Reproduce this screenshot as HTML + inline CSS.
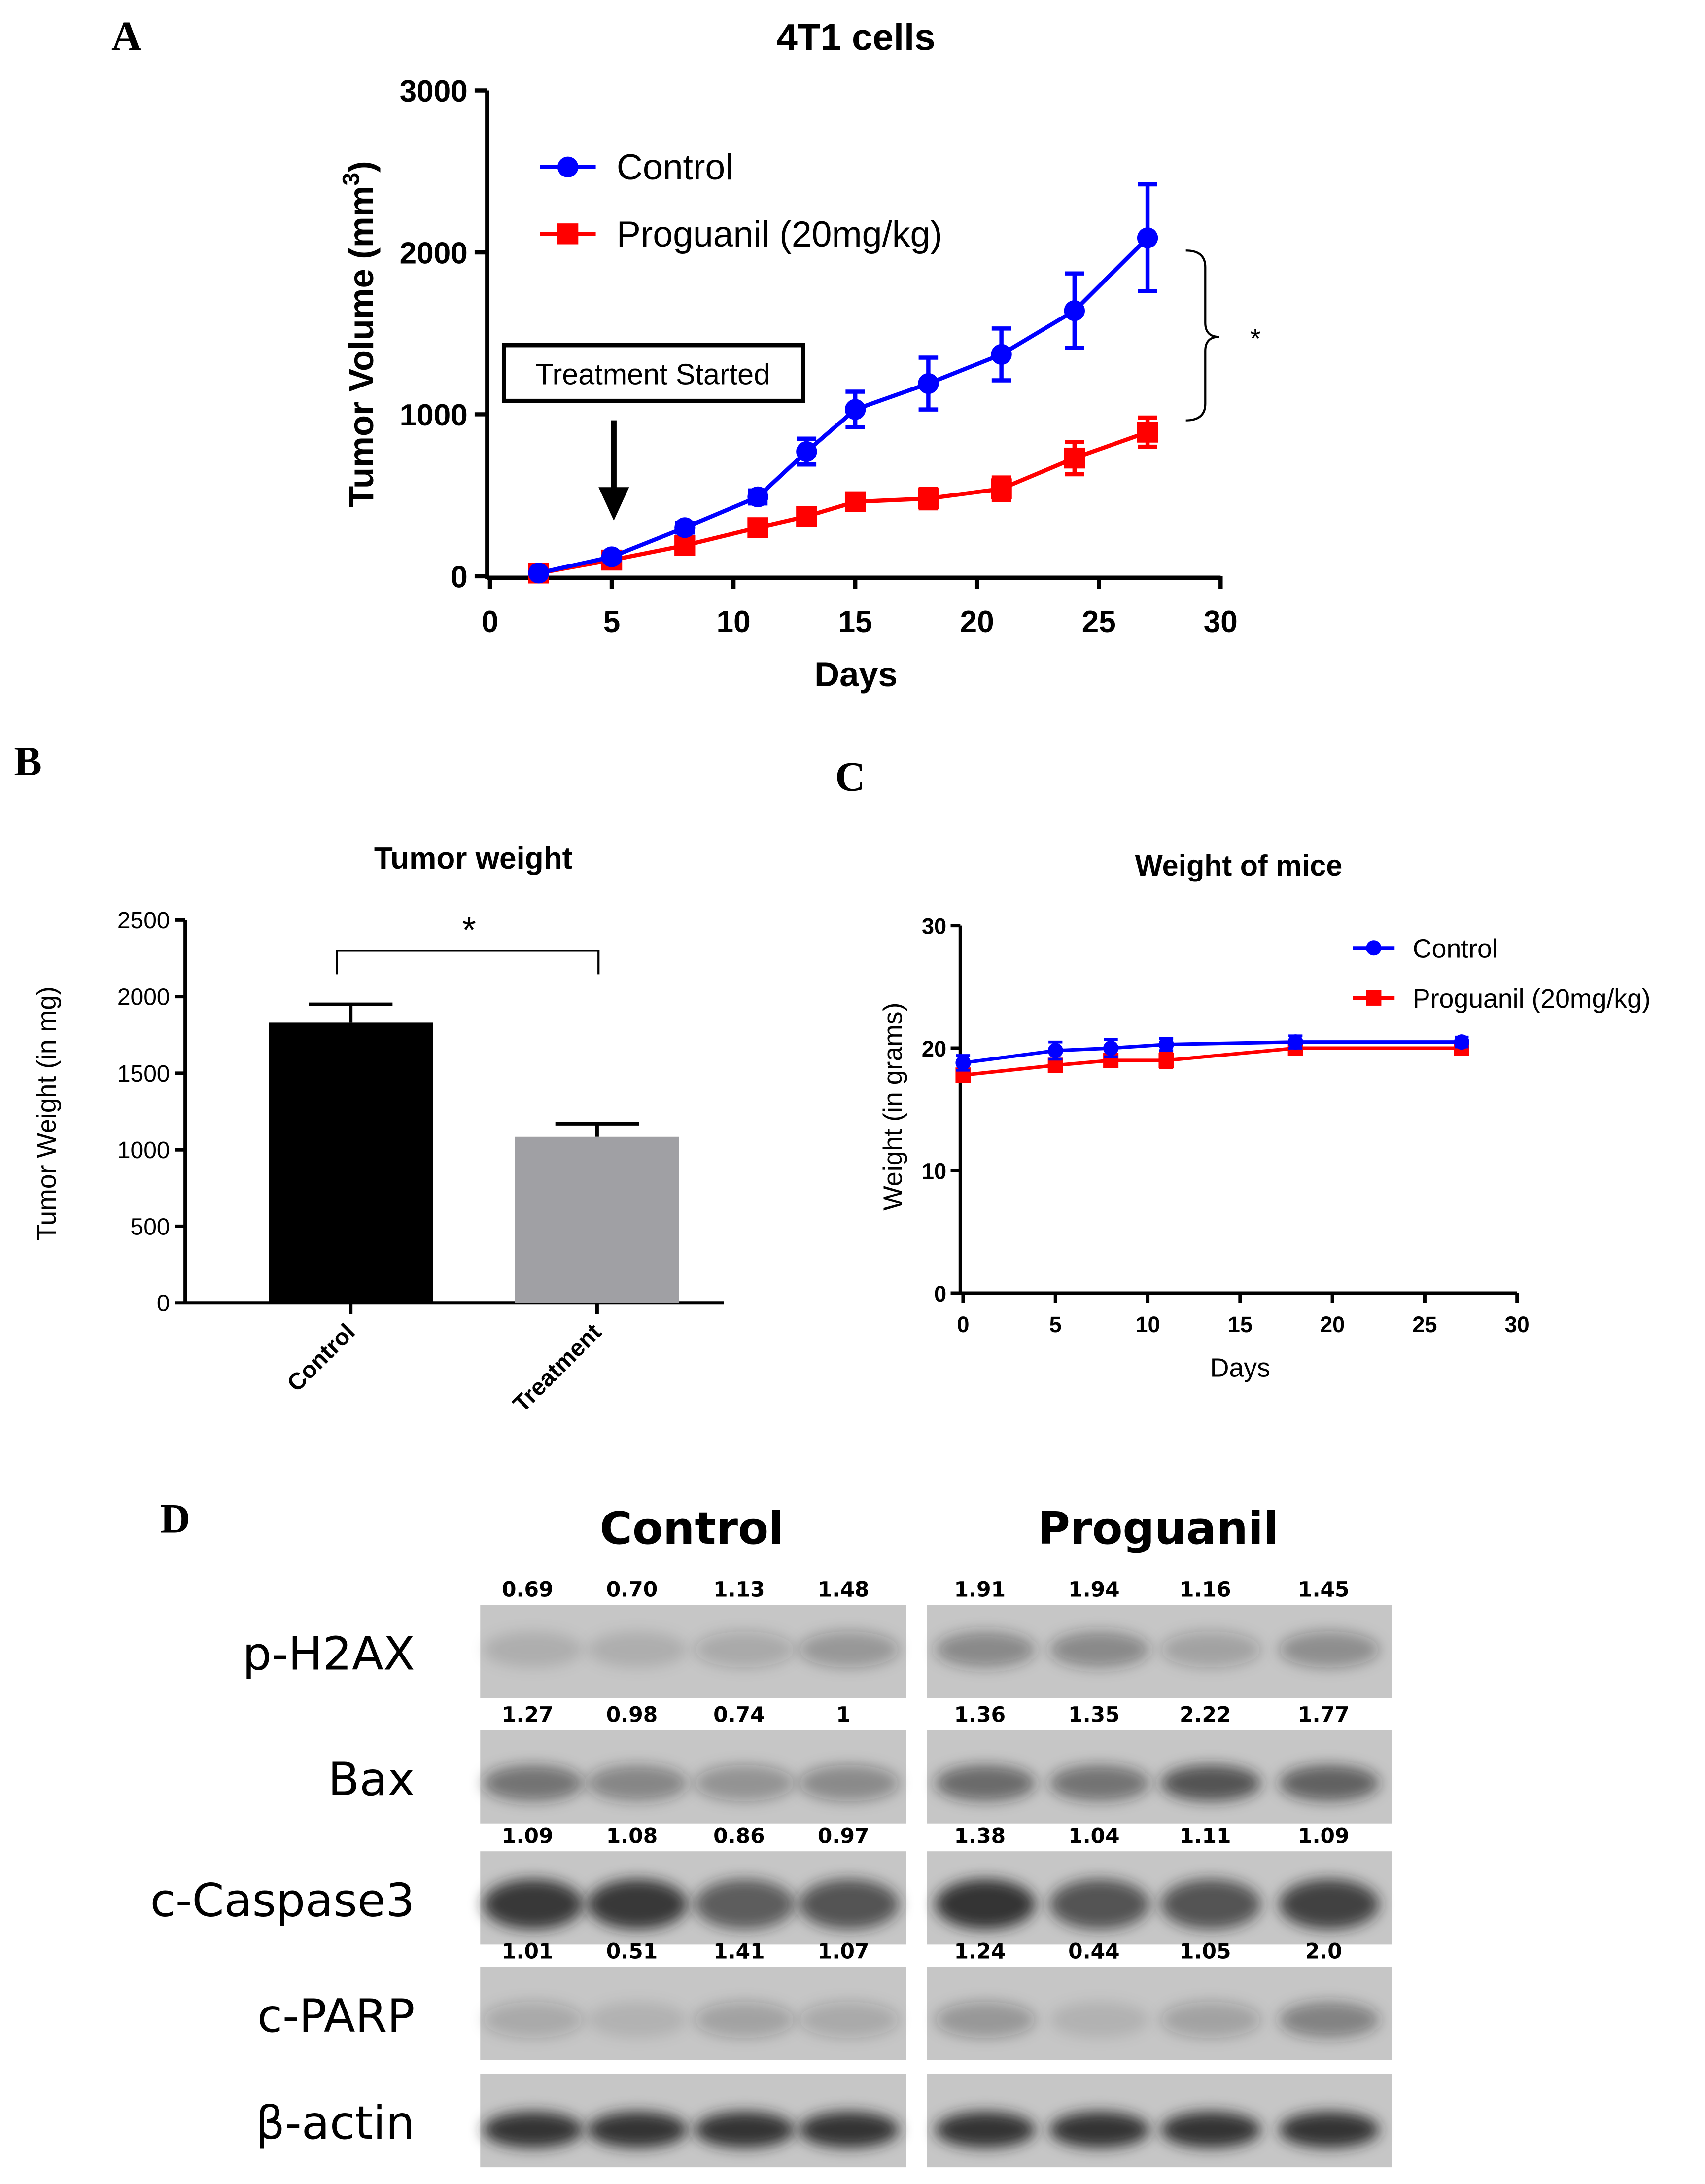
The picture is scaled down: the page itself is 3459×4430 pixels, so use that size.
<!DOCTYPE html>
<html><head><meta charset="utf-8"><style>html,body{margin:0;padding:0;background:#fff}svg{display:block}</style></head>
<body>
<svg width="3459" height="4430" viewBox="0 0 1225 1569" xmlns="http://www.w3.org/2000/svg" font-family="Liberation Sans, sans-serif">
<defs>
<filter id="blur" x="-50%" y="-50%" width="200%" height="200%"><feGaussianBlur stdDeviation="5"/></filter>
</defs>
<g id="panelA"></g>
<g id="panelB"></g>
<g id="panelC"></g>
<g id="panelD"></g>
</svg>
<script>
// Panel A data
const aDays=[2,5,8,11,13,15,18,21,24,27];
const aControl=[20,120,300,490,770,1030,1190,1370,1640,2090];
const aControlErr=[10,20,30,40,80,110,160,160,230,330];
const aProg=[20,100,190,300,370,460,480,540,730,890];
const aProgErr=[10,15,30,40,50,50,60,70,100,90];
const aYTicks=[0,1000,2000,3000];
const aXTicks=[0,5,10,15,20,25,30];
// Panel B data
const bCats=['Control','Treatment'];
const bVals=[1830,1085];
const bErr=[120,85];
const bYTicks=[0,500,1000,1500,2000,2500];
// Panel C data
const cDays=[0,5,8,11,18,27];
const cControl=[18.8,19.8,20,20.3,20.5,20.5];
const cControlErr=[0.6,0.7,0.7,0.5,0.5,0.4];
const cProg=[17.8,18.6,19,19,20,20];
const cProgErr=[0.4,0.5,0.5,0.6,0.4,0.3];
const cYTicks=[0,10,20,30];
const cXTicks=[0,5,10,15,20,25,30];
// Panel D data
const dRows=['p-H2AX','Bax','c-Caspase3','c-PARP','β-actin'];
const dNums=[['0.69','0.70','1.13','1.48','1.91','1.94','1.16','1.45'],['1.27','0.98','0.74','1','1.36','1.35','2.22','1.77'],['1.09','1.08','0.86','0.97','1.38','1.04','1.11','1.09'],['1.01','0.51','1.41','1.07','1.24','0.44','1.05','2.0'],null];
const dIntensity=[[0.12,0.12,0.18,0.28,0.38,0.38,0.22,0.33],[0.5,0.4,0.3,0.35,0.55,0.5,0.7,0.6],[0.85,0.85,0.65,0.7,0.9,0.7,0.7,0.8],[0.18,0.1,0.22,0.18,0.28,0.1,0.22,0.42],[0.9,0.9,0.9,0.9,0.9,0.9,0.9,0.9]];

const NS='http://www.w3.org/2000/svg';
function mk(parent,tag,attrs,text){const e=document.createElementNS(NS,tag);for(const k in attrs)e.setAttribute(k,attrs[k]);if(text!==undefined)e.textContent=text;parent.appendChild(e);return e;}

// ---------- Panel A ----------
(function(){
const g=document.getElementById('panelA');
const X=d=>352+d*17.5, Y=v=>414-v*(349/3000);
let t=mk(g,'text',{x:80,y:36,'font-family':'Liberation Serif, serif','font-weight':'bold','font-size':30});t.textContent='A';

t=mk(g,'text',{x:615,y:36,'text-anchor':'middle','font-weight':'bold','font-size':27},'4T1 cells');

let ax=mk(g,'path',{d:`M350,${Y(3000)} V${Y(0)+2} M350,${Y(0)+1} H${X(30)}`,stroke:'#000','stroke-width':3,fill:'none'});

aYTicks.forEach(v=>{mk(g,'line',{x1:341,x2:350,y1:Y(v),y2:Y(v),stroke:'#000','stroke-width':3});
 const l=mk(g,'text',{x:336,y:Y(v)+8,'text-anchor':'end','font-weight':'bold','font-size':22},v);
 });
aXTicks.forEach(v=>{mk(g,'line',{x1:X(v),x2:X(v),y1:Y(0),y2:Y(0)+9,stroke:'#000','stroke-width':3});
 const l=mk(g,'text',{x:X(v),y:Y(0)+40,'text-anchor':'middle','font-weight':'bold','font-size':22},v);
 });
t=mk(g,'text',{x:615,y:493,'text-anchor':'middle','font-weight':'bold','font-size':25},'Days');

t=mk(g,'text',{x:0,y:0,transform:'translate(268,240) rotate(-90)','text-anchor':'middle','font-weight':'bold','font-size':25});
t.innerHTML='Tumor Volume (mm<tspan dy="-10" font-size="17">3</tspan><tspan dy="10">)</tspan>';

function series(vals,err,col,shape,name){
 const s=mk(g,'g',{});
 mk(s,'polyline',{points:aDays.map((d,i)=>X(d)+','+Y(vals[i])).join(' '),stroke:col,'stroke-width':3,fill:'none'});
 aDays.forEach((d,i)=>{const x=X(d),y1=Y(vals[i]+err[i]),y2=Y(vals[i]-err[i]);
  mk(s,'path',{d:`M${x},${y1}V${y2}M${x-7},${y1}H${x+7}M${x-7},${y2}H${x+7}`,stroke:col,'stroke-width':3});
  let m=shape==='c'?mk(s,'circle',{cx:x,cy:Y(vals[i]),r:7.5,fill:col}):mk(s,'rect',{x:x-7.5,y:Y(vals[i])-7.5,width:15,height:15,fill:col});
  });
}
series(aProg,aProgErr,'#ff0000','s','series-proguanil');
series(aControl,aControlErr,'#0000ff','c','series-control');
let lg=mk(g,'g',{});
mk(lg,'line',{x1:388,x2:428,y1:120,y2:120,stroke:'#0000ff','stroke-width':3});mk(lg,'circle',{cx:408,cy:120,r:7.5,fill:'#0000ff'});
mk(lg,'text',{x:443,y:129,'font-size':26},'Control');
mk(lg,'line',{x1:388,x2:428,y1:168,y2:168,stroke:'#ff0000','stroke-width':3});mk(lg,'rect',{x:400.5,y:160.5,width:15,height:15,fill:'#ff0000'});
mk(lg,'text',{x:443,y:177,'font-size':26},'Proguanil (20mg/kg)');
let bx=mk(g,'g',{});
mk(bx,'rect',{x:362,y:248,width:215,height:40,fill:'#fff',stroke:'#000','stroke-width':3});
mk(bx,'text',{x:469,y:276,'text-anchor':'middle','font-size':21},'Treatment Started');
mk(bx,'line',{x1:441,x2:441,y1:302,y2:352,stroke:'#000','stroke-width':4});
mk(bx,'path',{d:'M430,350 L452,350 L441,374 Z',fill:'#000'});
let br=mk(g,'g',{});
mk(br,'path',{d:'M852,180 Q866,180 866,192 V232 Q866,242 876,242 Q866,242 866,252 V290 Q866,302 852,302',stroke:'#000','stroke-width':1.5,fill:'none'});
mk(br,'text',{x:902,y:250,'text-anchor':'middle','font-size':20},'*');
})();

// ---------- Panel B ----------
(function(){
const g=document.getElementById('panelB');
const Y=v=>936-v*(275/2500);
let t=mk(g,'text',{x:10,y:557,'font-family':'Liberation Serif, serif','font-weight':'bold','font-size':30},'B');

t=mk(g,'text',{x:340,y:624,'text-anchor':'middle','font-weight':'bold','font-size':22},'Tumor weight');

let ax=mk(g,'path',{d:`M133,${Y(2500)}V${Y(0)+1}M133,${Y(0)}H520`,stroke:'#000','stroke-width':2.5,fill:'none'});

bYTicks.forEach(v=>{mk(g,'line',{x1:126,x2:133,y1:Y(v),y2:Y(v),stroke:'#000','stroke-width':2.5});
 const l=mk(g,'text',{x:122,y:Y(v)+6,'text-anchor':'end','font-size':17},v);
 });
t=mk(g,'text',{x:0,y:0,transform:'translate(40,800) rotate(-90)','text-anchor':'middle','font-size':19},'Tumor Weight (in mg)');

const cx=[252,429],cols=['#000','#a0a0a4'];
bCats.forEach((c,i)=>{
 mk(g,'path',{d:`M${cx[i]},${Y(bVals[i])}V${Y(bVals[i]+bErr[i])}M${cx[i]-30},${Y(bVals[i]+bErr[i])}H${cx[i]+30}`,stroke:'#000','stroke-width':2.5});
 const b=mk(g,'rect',{x:cx[i]-59,y:Y(bVals[i]),width:118,height:Y(0)-Y(bVals[i]),fill:cols[i]});
 
 mk(g,'line',{x1:cx[i],x2:cx[i],y1:Y(0),y2:Y(0)+8,stroke:'#000','stroke-width':2.5});
 const l=mk(g,'text',{x:0,y:0,transform:`translate(${cx[i]+4},${Y(0)+22}) rotate(-45)`,'text-anchor':'end','font-weight':'bold','font-size':17},c);
 
});
let br=mk(g,'g',{});
mk(br,'path',{d:'M242,700V683H430V700',stroke:'#000','stroke-width':1.5,fill:'none'});
mk(br,'text',{x:337,y:677,'text-anchor':'middle','font-size':26},'*');
})();

// ---------- Panel C ----------
(function(){
const g=document.getElementById('panelC');
const X=d=>692+d*(398/30), Y=v=>929-v*(264/30);
let t=mk(g,'text',{x:600,y:568,'font-family':'Liberation Serif, serif','font-weight':'bold','font-size':30},'C');

t=mk(g,'text',{x:890,y:629,'text-anchor':'middle','font-weight':'bold','font-size':21},'Weight of mice');

let ax=mk(g,'path',{d:`M690,${Y(30)}V${Y(0)+1}M690,${Y(0)}H${X(30)}`,stroke:'#000','stroke-width':2.5,fill:'none'});

cYTicks.forEach(v=>{mk(g,'line',{x1:683,x2:690,y1:Y(v),y2:Y(v),stroke:'#000','stroke-width':2.5});
 const l=mk(g,'text',{x:680,y:Y(v)+6,'text-anchor':'end','font-weight':'bold','font-size':16},v);
 });
cXTicks.forEach(v=>{mk(g,'line',{x1:X(v),x2:X(v),y1:Y(0),y2:Y(0)+7,stroke:'#000','stroke-width':2.5});
 const l=mk(g,'text',{x:X(v),y:Y(0)+28,'text-anchor':'middle','font-weight':'bold','font-size':16},v);
 });
t=mk(g,'text',{x:891,y:989,'text-anchor':'middle','font-size':19},'Days');

t=mk(g,'text',{x:0,y:0,transform:'translate(648,795) rotate(-90)','text-anchor':'middle','font-size':19},'Weight (in grams)');

function series(vals,err,col,shape,name){
 const s=mk(g,'g',{});
 mk(s,'polyline',{points:cDays.map((d,i)=>X(d)+','+Y(vals[i])).join(' '),stroke:col,'stroke-width':2.5,fill:'none'});
 cDays.forEach((d,i)=>{const x=X(d),y1=Y(vals[i]+err[i]),y2=Y(vals[i]-err[i]);
  mk(s,'path',{d:`M${x},${y1}V${y2}M${x-5},${y1}H${x+5}M${x-5},${y2}H${x+5}`,stroke:col,'stroke-width':2});
  let m=shape==='c'?mk(s,'circle',{cx:x,cy:Y(vals[i]),r:5.5,fill:col}):mk(s,'rect',{x:x-5.5,y:Y(vals[i])-5.5,width:11,height:11,fill:col});
  });
}
series(cProg,cProgErr,'#ff0000','s','series-proguanil');
series(cControl,cControlErr,'#0000ff','c','series-control');
let lg=mk(g,'g',{});
mk(lg,'line',{x1:972,x2:1002,y1:681,y2:681,stroke:'#0000ff','stroke-width':2.5});mk(lg,'circle',{cx:987,cy:681,r:5.5,fill:'#0000ff'});
mk(lg,'text',{x:1015,y:688,'font-size':19},'Control');
mk(lg,'line',{x1:972,x2:1002,y1:717,y2:717,stroke:'#ff0000','stroke-width':2.5});mk(lg,'rect',{x:981.5,y:711.5,width:11,height:11,fill:'#ff0000'});
mk(lg,'text',{x:1015,y:724,'font-size':19},'Proguanil (20mg/kg)');
})();

// ---------- Panel D ----------
(function(){
const g=document.getElementById('panelD');
let t=mk(g,'text',{x:115,y:1101,'font-family':'Liberation Serif, serif','font-weight':'bold','font-size':30},'D');

t=mk(g,'text',{x:497,y:1109,'text-anchor':'middle','font-weight':'bold','font-size':32,'font-family':'DejaVu Sans, sans-serif'},'Control');

t=mk(g,'text',{x:832,y:1109,'text-anchor':'middle','font-weight':'bold','font-size':32,'font-family':'DejaVu Sans, sans-serif'},'Proguanil');

const rowY=[1153,1243,1330,1413,1490],rowH=67;
const panels=[[345,651],[666,1000]];
const lanes=[383,458,535,610,708,790,870,955];
dRows.forEach((r,ri)=>{
 const y=rowY[ri];
 const l=mk(g,'text',{x:298,y:y+rowH/2+13,'text-anchor':'end','font-size':33,'font-family':'DejaVu Sans, sans-serif'},r);
 
 panels.forEach((p,pi)=>{
  const bg=mk(g,'rect',{x:p[0],y:y,width:p[1]-p[0],height:rowH,fill:'#c6c6c6'});
  
 });
 lanes.forEach((lx,li)=>{
  const a=dIntensity[ri][li];
  const by=ri===0?y+32:(ri===4?y+40:y+38);
  const band=mk(g,'ellipse',{cx:lx,cy:by,rx:36,ry:ri===2?18:13,fill:'#222','fill-opacity':a,filter:'url(#blur)'});
  
  if(dNums[ri]){const n=mk(g,'text',{x:lx-4,y:y-6,'text-anchor':'middle','font-weight':'bold','font-size':15,'font-family':'DejaVu Sans, sans-serif'},dNums[ri][li]);
   }
 });
});
})();
</script>
</body></html>
